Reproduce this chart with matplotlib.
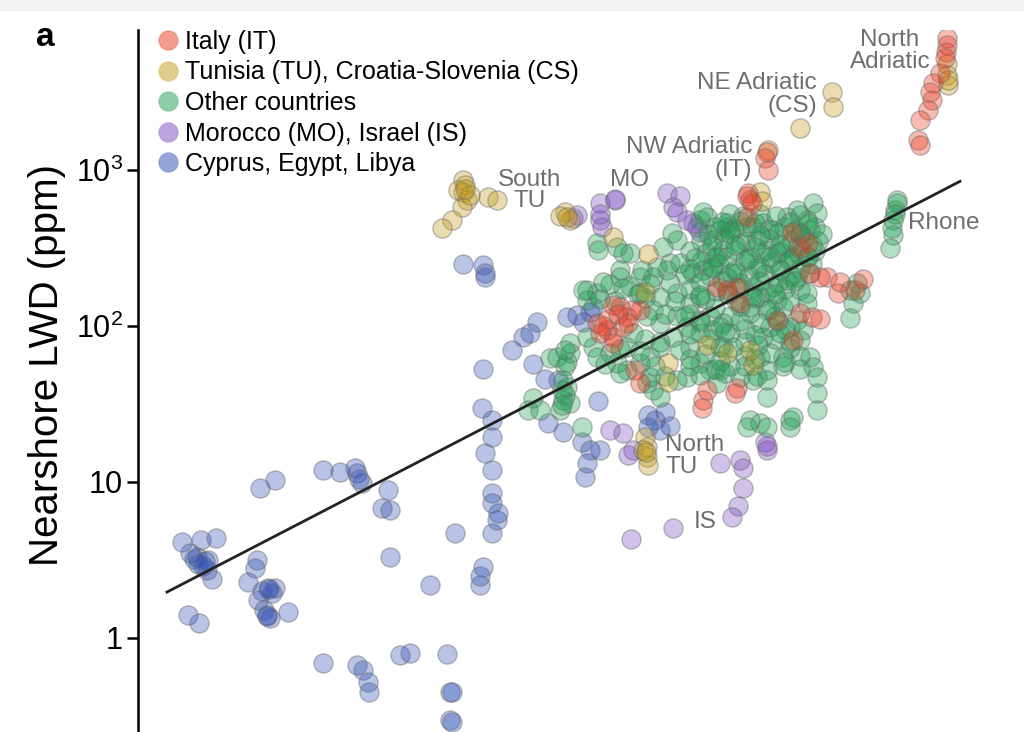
import matplotlib
matplotlib.use("Agg")
import matplotlib.pyplot as plt
import numpy as np
from matplotlib.colors import to_rgba
from matplotlib.lines import Line2D
from matplotlib.patches import Rectangle

plt.rcParams["font.family"] = ["Liberation Sans", "DejaVu Sans"]
plt.rcParams["mathtext.fontset"] = "custom"
plt.rcParams["mathtext.rm"] = "Liberation Sans"

# (x, nearshore LWD in ppm), one list per group
cyprus_egypt_libya = [
    (0.44, 4.1), (0.63, 4.25), (0.78, 4.4), (0.52, 3.5), (0.59, 3.3), (0.70, 3.16),
    (0.74, 2.4), (0.69, 2.73), (0.56, 3.2), (0.65, 2.9), (0.50, 1.4), (0.61, 1.25),
    (0.60, 3.0), (0.67, 3.1),
    (1.19, 3.16), (1.17, 2.8), (1.10, 2.3), (1.30, 2.1), (1.37, 2.1), (1.20, 1.75),
    (1.29, 1.4), (1.32, 1.35), (1.50, 1.47), (1.24, 2.0), (1.34, 1.95), (1.26, 1.5),
    (1.22, 9.2), (1.37, 10.3), (1.31, 2.05), (1.29, 1.38),
    (1.85, 11.9), (2.02, 11.6), (2.19, 11.4), (2.24, 9.8), (2.50, 8.9), (2.44, 6.8),
    (2.52, 6.6), (2.52, 3.3), (2.17, 12.3), (2.21, 10.5),
    (1.85, 0.69), (2.19, 0.67), (2.25, 0.62), (2.30, 0.52), (2.31, 0.45), (2.62, 0.78),
    (2.72, 0.80), (3.09, 0.79), (3.12, 0.45), (3.14, 0.45), (3.12, 0.30), (3.14, 0.29),
    (2.92, 2.2),
    (3.17, 4.7), (3.42, 2.2), (3.42, 2.5), (3.45, 2.85), (3.54, 4.7), (3.59, 5.7),
    (3.60, 6.3), (3.54, 7.3), (3.45, 53), (3.44, 30), (3.54, 25), (3.54, 19.5),
    (3.47, 15.3), (3.54, 11.9), (3.54, 8.5),
    (3.25, 250), (3.45, 245), (3.47, 220), (3.47, 205),
    (3.74, 70), (3.85, 85), (3.99, 106), (3.92, 90), (3.95, 57), (4.07, 46),
    (4.20, 45), (4.10, 24), (4.25, 21), (4.60, 33), (4.55, 133), (4.39, 117),
    (4.45, 106), (4.29, 114), (4.52, 123), (4.44, 18), (4.49, 13.2), (4.47, 10.7),
    (4.52, 16), (4.62, 16),
    (5.10, 27), (5.17, 25), (5.27, 28), (5.32, 23), (5.10, 22.5), (5.22, 21.6),
]

morocco_israel = [
    (4.62, 610), (4.77, 643), (4.62, 478), (4.64, 430), (4.39, 515), (4.35, 495),
    (5.29, 710), (5.42, 680), (5.35, 580), (5.39, 535), (5.49, 478), (5.59, 430),
    (5.62, 400), (5.55, 460), (4.77, 650), (4.62, 520),
    (4.72, 21.6), (4.85, 20.6), (4.95, 16), (4.90, 14.9), (5.82, 13.2), (6.02, 13.8),
    (6.05, 12.3), (6.05, 9.1), (6.27, 18), (6.29, 16), (6.29, 17), (6.00, 7.0),
    (5.94, 6.0), (5.35, 5.1), (4.93, 4.3),
]

other_countries = [
    (4.32, 78), (4.32, 67), (4.29, 59), (4.12, 62), (4.24, 38.9), (4.25, 33.6),
    (4.22, 29), (4.32, 32.2), (3.95, 34.6), (3.90, 29), (4.44, 22.6), (4.29, 40.7),
    (4.19, 63), (4.49, 170), (4.59, 163), (4.59, 341), (4.60, 307), (4.85, 294),
    (4.82, 229), (4.82, 207), (5.04, 229), (5.02, 207), (5.32, 254), (5.29, 229),
    (5.19, 239), (5.25, 321), (5.34, 394), (4.45, 170), (4.49, 147), (5.32, 189),
    (5.39, 163), (5.22, 153), (5.55, 219), (5.65, 229), (5.75, 239), (5.79, 277),
    (5.75, 356), (5.82, 412), (5.69, 500), (5.62, 478), (5.89, 457), (5.85, 307),
    (5.89, 207), (5.62, 153), (5.52, 141), (5.39, 115), (5.22, 104), (5.15, 127),
    (5.09, 115), (4.95, 90), (4.89, 73), (4.72, 67), (4.55, 73), (4.49, 85),
    (4.59, 63), (4.79, 58), (4.89, 52.3), (5.02, 58), (5.12, 63), (5.22, 73),
    (5.35, 85), (5.49, 98), (5.62, 109), (5.72, 115), (5.75, 94), (5.62, 90),
    (5.52, 73), (5.42, 70), (5.52, 61), (5.62, 58), (5.49, 47), (5.39, 45),
    (5.72, 52), (5.82, 52), (5.79, 43), (5.09, 43), (5.15, 39), (5.12, 47),
    (5.22, 35), (5.85, 73), (5.85, 104), (6.75, 615), (6.79, 530), (6.69, 478),
    (6.59, 554), (6.49, 500), (6.72, 412), (6.62, 394), (5.92, 412), (6.09, 431),
    (6.25, 457), (6.35, 412), (6.19, 356), (6.02, 341), (5.89, 277), (6.12, 277),
    (6.29, 307), (6.39, 294), (6.49, 321), (6.55, 277), (6.69, 277), (6.22, 239),
    (6.42, 229), (5.99, 219), (6.15, 178), (6.35, 178), (6.49, 197), (6.59, 207),
    (6.62, 170), (5.89, 163), (6.22, 153), (6.39, 147), (6.12, 133), (6.29, 127),
    (6.45, 133), (6.69, 163), (6.69, 141), (6.59, 109), (6.52, 98), (6.65, 94),
    (6.62, 81), (6.72, 63), (6.75, 54.7), (6.79, 47), (6.79, 37.2), (6.79, 29),
    (6.45, 63), (6.45, 55), (6.25, 85), (6.22, 63), (6.29, 52), (6.29, 45),
    (6.29, 35), (5.92, 90), (5.95, 73), (5.92, 55), (6.02, 47), (6.15, 45),
    (7.12, 170), (7.19, 189), (7.22, 163), (7.15, 141), (7.12, 113), (6.12, 25),
    (6.22, 24), (6.52, 25), (6.55, 26), (6.52, 22.6), (6.09, 22.6), (6.29, 22.6),
    (7.59, 643), (7.57, 554), (7.55, 478), (7.54, 425), (7.55, 383), (7.52, 317),
    (7.59, 610), (7.57, 520),
    (5.02, 163), (5.15, 207), (5.39, 356), (4.92, 294), (4.79, 321), (5.65, 538),
    (5.89, 431), (4.02, 29),
    # dense core
    (5.92, 520), (6.05, 508), (6.22, 522), (6.38, 505), (6.62, 512),
    (5.77, 430), (5.96, 418), (6.14, 432), (6.31, 420), (6.46, 428), (6.58, 415), (6.77, 430),
    (5.63, 350), (5.86, 362), (6.08, 348), (6.31, 360), (6.53, 352), (6.66, 365), (6.80, 350),
    (5.52, 302), (5.68, 292), (5.97, 305), (6.23, 294), (6.42, 300), (6.61, 291), (6.77, 303),
    (5.42, 252), (5.63, 262), (5.81, 250), (6.07, 260), (6.33, 254), (6.51, 263), (6.74, 250),
    (5.47, 216), (5.72, 209), (5.93, 218), (6.11, 210), (6.27, 216), (6.53, 208), (6.71, 217),
    (5.52, 173), (5.78, 167), (6.02, 174), (6.28, 166), (6.47, 172),
    (5.67, 149), (5.98, 144), (6.17, 150), (6.52, 145),
    (5.52, 120), (5.92, 116), (6.12, 121), (6.37, 115),
    (5.82, 99), (6.07, 95), (6.32, 99), (6.47, 95),
    (5.72, 83), (6.07, 79), (6.37, 83), (6.52, 79),
    (5.67, 66), (6.07, 64), (6.32, 67), (6.62, 64),
    (5.52, 55), (5.77, 53), (6.07, 55), (6.62, 53),
    (4.72, 185), (4.92, 180), (5.12, 186),
    (4.62, 149), (4.77, 144), (5.07, 150), (5.37, 145),
    (5.27, 120), (5.47, 116),
    (5.07, 83), (5.22, 79),
    (4.82, 71), (5.02, 69),
    (4.67, 57), (5.17, 55),
    (4.82, 50), (5.27, 48),
    (5.84, 464), (6.02, 470), (6.17, 458), (6.52, 466), (6.70, 460),
    (5.70, 389), (5.92, 395), (6.22, 384), (6.40, 392), (6.62, 386), (6.84, 390),
    (5.74, 326), (5.97, 332), (6.17, 322), (6.42, 330), (6.60, 324), (6.74, 328),
    (5.57, 273), (5.77, 278), (6.10, 270), (6.32, 276), (6.52, 270), (6.70, 275),
    (5.52, 232), (5.74, 236), (5.97, 229), (6.19, 234), (6.42, 228), (6.62, 233),
    (5.62, 191), (5.84, 195), (6.02, 188), (6.22, 193), (6.40, 189), (6.57, 194),
    (5.62, 158), (5.90, 161), (6.14, 156), (6.37, 160),
    (5.77, 131), (6.02, 134), (6.32, 129),
    (5.62, 106), (6.02, 108), (6.22, 104), (6.40, 107),
    (5.52, 89), (5.87, 91), (6.17, 87), (6.42, 90),
    (5.82, 73), (6.20, 75), (6.52, 72),
    (5.82, 60), (6.17, 61), (6.47, 59),
    (5.62, 48.6), (5.87, 50), (6.19, 48),
    (4.27, 70), (4.27, 55), (4.25, 45), (4.27, 36), (4.24, 31),
    (4.65, 190), (4.85, 175), (5.00, 160),
]

tunisia_croatia = [
    (3.25, 863), (3.27, 800), (3.25, 720), (3.29, 643), (3.24, 580), (3.14, 478),
    (3.04, 425), (3.50, 670), (3.59, 643), (3.20, 745), (3.32, 690), (3.27, 760),
    (4.27, 535), (4.32, 478), (4.22, 510), (4.29, 500),
    (4.75, 370), (5.10, 290), (5.07, 166),
    (5.07, 19.4), (5.09, 16.8), (5.09, 14.5), (5.10, 12.9), (5.05, 16), (5.08, 15.5),
    (5.30, 58), (5.30, 44), (5.69, 75), (5.89, 67), (6.15, 56), (6.12, 70),
    (6.94, 3150), (6.95, 2530), (6.62, 1860), (6.30, 1340), (6.22, 720), (6.24, 635),
    (8.09, 4800), (8.09, 4060), (8.10, 3500), (8.10, 3780),
]

italy = [
    (8.09, 6970), (8.09, 6300), (8.08, 5700), (8.07, 5220), (8.02, 4170), (7.95, 3600),
    (7.92, 3160), (7.94, 2810), (7.90, 2430), (7.82, 2090), (7.80, 1560), (7.82, 1450),
    (6.29, 1300), (6.27, 1190), (6.30, 1000), (6.10, 710), (6.12, 643), (6.09, 500),
    (4.59, 104), (4.69, 94), (4.75, 85), (4.85, 99), (4.89, 114), (4.94, 127),
    (4.82, 133), (5.02, 127), (4.75, 78), (4.75, 137), (4.97, 52), (5.02, 43),
    (5.65, 33.6), (5.64, 30), (5.69, 39), (5.79, 178), (5.89, 170), (5.99, 178),
    (6.02, 140), (5.99, 40), (5.97, 37),
    (6.39, 109), (6.55, 81), (6.62, 121), (6.74, 114), (6.82, 111), (6.72, 218),
    (6.82, 207), (6.89, 207), (7.00, 163), (7.02, 190), (7.25, 200),
    (6.54, 400), (6.62, 318), (6.70, 340), (6.09, 680), (6.14, 615), (7.17, 170),
    (4.70, 110), (4.80, 120), (4.65, 100), (4.90, 105), (4.62, 90),
]

legend_labels = [
    "Italy (IT)",
    "Tunisia (TU), Croatia-Slovenia (CS)",
    "Other countries",
    "Morocco (MO), Israel (IS)",
    "Cyprus, Egypt, Libya",
]
colors = ["#e8381f", "#c39a1a", "#1e9f52", "#7b4cc0", "#2f4fb5"]

# regression line: log10(LWD) = a + b * x
fit_a = 0.198
fit_b = 0.332
fit_x = [0.29, 8.22]

# annotations (text, x, y, ha)
annotations = [
    ("South", 3.92, 863, "center"),
    ("TU", 3.92, 635, "center"),
    ("MO", 4.92, 863, "center"),
    ("NW Adriatic", 6.14, 1400, "right"),
    ("(IT)", 6.14, 1000, "right"),
    ("NE Adriatic", 6.79, 3600, "right"),
    ("(CS)", 6.79, 2580, "right"),
    ("North", 7.52, 6800, "center"),
    ("Adriatic", 7.52, 4950, "center"),
    ("North", 5.27, 17.2, "left"),
    ("TU", 5.27, 12.5, "left"),
    ("IS", 5.67, 5.55, "center"),
    ("Rhone", 7.70, 460, "left"),
]

fig = plt.figure(figsize=(10.24, 7.32), dpi=100)
fig.add_artist(Rectangle((0, 1 - 10 / 732), 1, 10 / 732, transform=fig.transFigure,
                         color="#f2f2f2", zorder=-5))
ax = fig.add_axes([138 / 1024, 0, 872 / 1024, 702 / 732])

groups = [italy, tunisia_croatia, other_countries, morocco_israel, cyprus_egypt_libya]
draw_order = [4, 3, 2, 1, 0]
for i in draw_order:
    pts = np.array(groups[i])
    ax.scatter(pts[:, 0], pts[:, 1], s=190,
               facecolor=to_rgba(colors[i], 0.34),
               edgecolor=(0.42, 0.42, 0.42, 0.45), linewidth=1.0, zorder=2)

fx = np.array(fit_x)
ax.plot(fx, 10 ** (fit_a + fit_b * fx), color="#222222", lw=2, zorder=3)

for txt, x, y, ha in annotations:
    ax.text(x, y, txt, ha=ha, va="center", fontsize=17.5, color="#6e6e6e", zorder=4)

ax.set_yscale("log")
ax.set_ylim(0.2496, 7890)
ax.set_xlim(0, 8.72)
ax.set_yticks([1, 10, 100, 1000])
ax.set_yticklabels(["1", "10", r"$\mathregular{10^2}$", r"$\mathregular{10^3}$"])
ax.yaxis.set_minor_locator(matplotlib.ticker.NullLocator())
ax.tick_params(axis="y", direction="out", length=8, width=1.8, labelsize=22, pad=3)
ax.set_xticks([])
for side in ["top", "right", "bottom"]:
    ax.spines[side].set_visible(False)
ax.spines["left"].set_linewidth(1.8)

ax.set_ylabel("Nearshore LWD (ppm)", fontsize=29)
ax.yaxis.set_label_coords(-0.083, 0.523)

handles = [Line2D([], [], marker="o", ls="", markersize=14,
                  markerfacecolor=to_rgba(c, 0.5), markeredgecolor=to_rgba(c, 0.25))
           for c in colors]
ax.legend(handles, legend_labels, loc="upper left", bbox_to_anchor=(0.021, 1.0),
          frameon=False, fontsize=18, handlelength=0.9, handletextpad=0.25,
          labelspacing=0.26, borderpad=0, borderaxespad=0)

fig.text(45 / 1024, 1 - 38 / 732, "a", fontsize=24, fontweight="bold", va="center", ha="center")

fig.savefig("out.png", dpi=100)
